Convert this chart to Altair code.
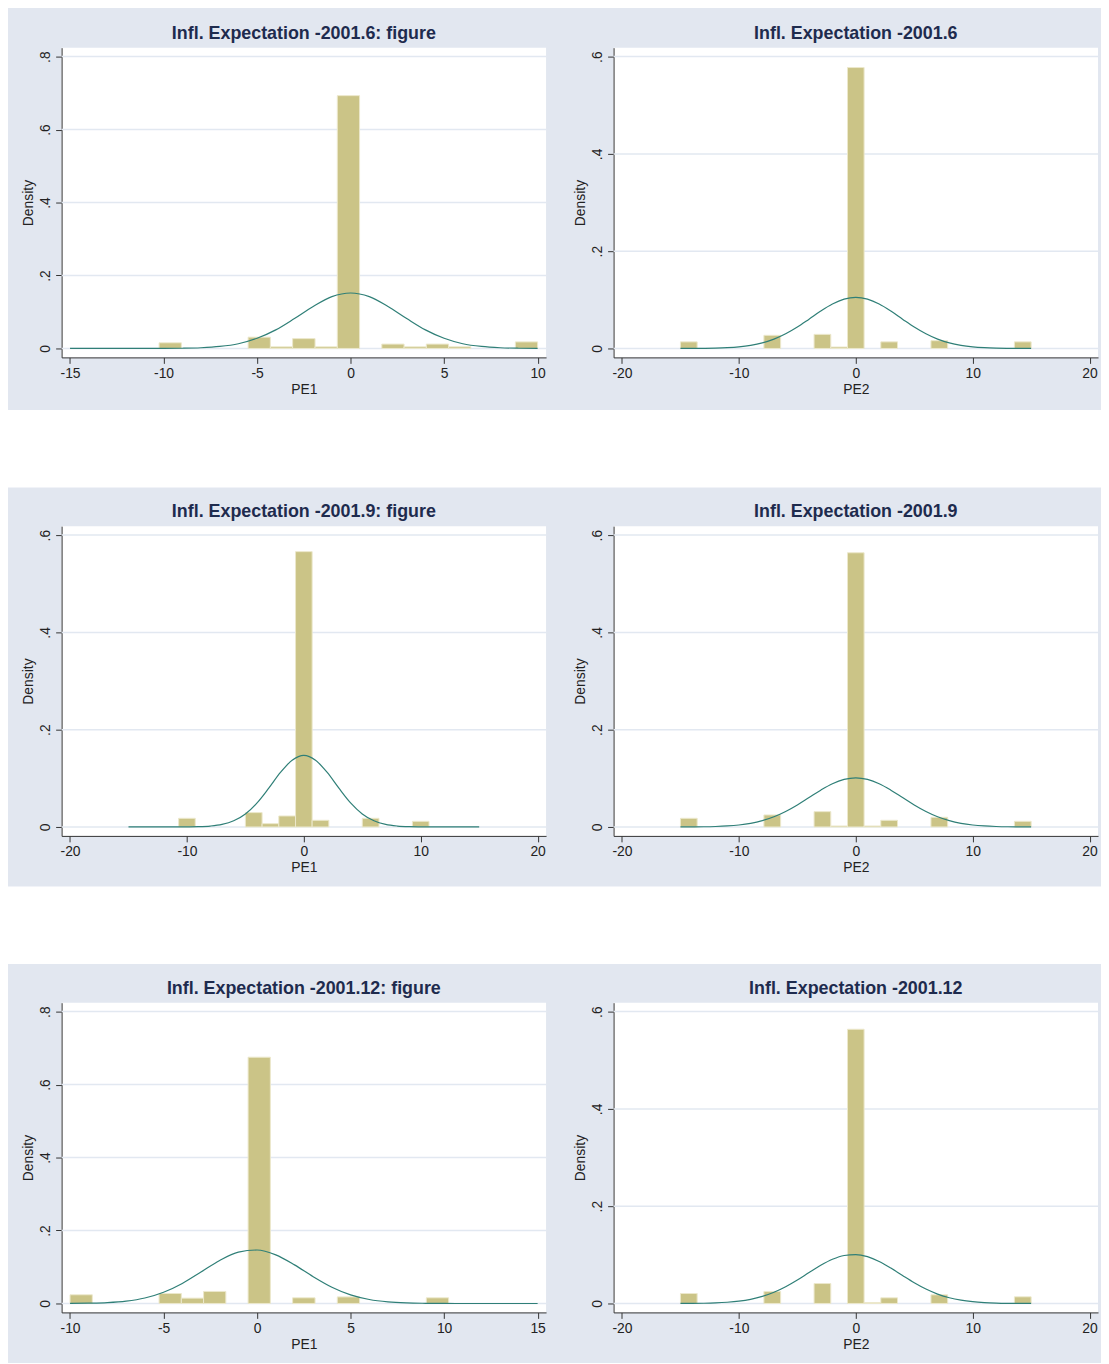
import altair as alt
import pandas as pd

# ---------------- texts ----------------
PANEL_TITLES = [
    "Infl. Expectation -2001.6: figure",
    "Infl. Expectation -2001.6",
    "Infl. Expectation -2001.9: figure",
    "Infl. Expectation -2001.9",
    "Infl. Expectation -2001.12: figure",
    "Infl. Expectation -2001.12",
]
X_TITLES = ["PE1", "PE2", "PE1", "PE2", "PE1", "PE2"]
Y_TITLE = "Density"

# ---------------- tick values ----------------
X_TICKS = [
    [-15, -10, -5, 0, 5, 10],
    [-20, -10, 0, 10, 20],
    [-20, -10, 0, 10, 20],
    [-20, -10, 0, 10, 20],
    [-10, -5, 0, 5, 10, 15],
    [-20, -10, 0, 10, 20],
]
Y_TICKS = [
    [0, 0.2, 0.4, 0.6, 0.8],
    [0, 0.2, 0.4, 0.6],
    [0, 0.2, 0.4, 0.6],
    [0, 0.2, 0.4, 0.6],
    [0, 0.2, 0.4, 0.6, 0.8],
    [0, 0.2, 0.4, 0.6],
]

# ---------------- histogram bars (bin low, bin high, density) ----------------
P1_LO = [-10.24, -5.48, -4.29, -3.10, -1.90, -0.71, 1.67, 2.86, 4.05, 5.24, 8.81]
P1_HI = [-9.05, -4.29, -3.10, -1.90, -0.71, 0.48, 2.86, 4.05, 5.24, 6.43, 10.00]
P1_D = [0.0155, 0.031, 0.0045, 0.027, 0.0045, 0.693, 0.012, 0.0045, 0.012, 0.0045, 0.018]

P2_LO = [-15.00, -7.86, -3.57, -2.14, -0.71, 2.14, 6.43, 13.57]
P2_HI = [-13.57, -6.43, -2.14, -0.71, 0.71, 3.57, 7.86, 15.00]
P2_D = [0.0136, 0.027, 0.029, 0.003, 0.5775, 0.0136, 0.016, 0.0136]

P3_LO = [-10.71, -5.00, -3.57, -2.14, -0.71, 0.71, 5.00, 9.29]
P3_HI = [-9.29, -3.57, -2.14, -0.71, 0.71, 2.14, 6.43, 10.71]
P3_D = [0.0178, 0.0295, 0.0068, 0.0226, 0.566, 0.0137, 0.0178, 0.0116]

P4_LO = [-15.00, -7.86, -3.57, -2.14, -0.71, 0.71, 2.14, 6.43, 13.57]
P4_HI = [-13.57, -6.43, -2.14, -0.71, 0.71, 2.14, 3.57, 7.86, 15.00]
P4_D = [0.0178, 0.0247, 0.0315, 0.002, 0.5637, 0.002, 0.0137, 0.0199, 0.0116]

P5_LO = [-10.00, -5.24, -4.05, -2.86, -0.48, 1.90, 4.29, 9.05]
P5_HI = [-8.81, -4.05, -2.86, -1.67, 0.71, 3.10, 5.48, 10.24]
P5_D = [0.0238, 0.0274, 0.0146, 0.033, 0.675, 0.0155, 0.018, 0.0155]

P6_LO = [-15.00, -7.86, -3.57, -0.71, 0.71, 2.14, 6.43, 13.57]
P6_HI = [-13.57, -6.43, -2.14, 0.71, 2.14, 3.57, 7.86, 15.00]
P6_D = [0.0205, 0.0247, 0.041, 0.5637, 0.002, 0.0116, 0.0178, 0.0137]

# ---------------- normal-density overlay ----------------
P1_CX = [-15, -14, -13, -12, -11, -10, -9, -8, -7, -6, -5, -4, -3, -2, -1, 0,
         1, 2, 3, 4, 5, 6, 7, 8, 9, 10]
P1_CY = [0.0, 0.0, 0.0, 0.0, 0.0, 0.0001, 0.0006, 0.002, 0.0055, 0.013, 0.028,
         0.051, 0.082, 0.115, 0.142, 0.152, 0.142, 0.115, 0.082, 0.051, 0.028,
         0.013, 0.0055, 0.002, 0.0006, 0.0001]

P2_CX = [-15, -14, -13, -12, -11, -10, -9, -8, -7, -6, -5, -4, -3, -2, -1, 0,
         1, 2, 3, 4, 5, 6, 7, 8, 9, 10, 11, 12, 13, 14, 15]
P2_CY = [0.0, 0.0001, 0.0003, 0.0007, 0.0016, 0.0033, 0.0064, 0.0114, 0.0192,
         0.0302, 0.0441, 0.0603, 0.0769, 0.0914, 0.1014, 0.105, 0.1014, 0.0914,
         0.0769, 0.0603, 0.0441, 0.0302, 0.0192, 0.0114, 0.0064, 0.0033, 0.0016,
         0.0007, 0.0003, 0.0001, 0.0]

P3_CX = [-15, -14, -13, -12, -11, -10, -9, -8, -7, -6, -5, -4, -3, -2, -1, 0,
         1, 2, 3, 4, 5, 6, 7, 8, 9, 10, 11, 12, 13, 14, 15]
P3_CY = [0.0, 0.0, 0.0, 0.0, 0.0, 0.0002, 0.0006, 0.0019, 0.0052, 0.0127,
         0.0268, 0.0495, 0.0797, 0.112, 0.137, 0.147, 0.137, 0.112, 0.0797,
         0.0495, 0.0268, 0.0127, 0.0052, 0.0019, 0.0006, 0.0002, 0.0, 0.0, 0.0,
         0.0, 0.0]

P4_CX = [-15, -14, -13, -12, -11, -10, -9, -8, -7, -6, -5, -4, -3, -2, -1, 0,
         1, 2, 3, 4, 5, 6, 7, 8, 9, 10, 11, 12, 13, 14, 15]
P4_CY = [0.0001, 0.0002, 0.0004, 0.001, 0.0021, 0.0041, 0.0075, 0.013, 0.021,
         0.0319, 0.0453, 0.0605, 0.0757, 0.0889, 0.0978, 0.101, 0.0978, 0.0889,
         0.0757, 0.0605, 0.0453, 0.0319, 0.021, 0.013, 0.0075, 0.0041, 0.0021,
         0.001, 0.0004, 0.0002, 0.0001]

P5_CX = [-10, -9, -8, -7, -6, -5, -4, -3, -2, -1, 0, 1, 2, 3, 4, 5, 6, 7, 8,
         9, 10, 11, 12, 13, 14, 15]
P5_CY = [0.0002, 0.0008, 0.0023, 0.0063, 0.0149, 0.0307, 0.055, 0.0862, 0.118,
         0.1407, 0.1466, 0.1333, 0.1058, 0.0732, 0.0443, 0.0234, 0.0108, 0.0043,
         0.0015, 0.0005, 0.0001, 0.0, 0.0, 0.0, 0.0, 0.0]

P6_CX = [-15, -14, -13, -12, -11, -10, -9, -8, -7, -6, -5, -4, -3, -2, -1, 0,
         1, 2, 3, 4, 5, 6, 7, 8, 9, 10, 11, 12, 13, 14, 15]
P6_CY = [0.0001, 0.0002, 0.0005, 0.0012, 0.0025, 0.0047, 0.0085, 0.0145,
         0.0231, 0.0345, 0.0483, 0.0636, 0.0784, 0.0908, 0.0987, 0.1006, 0.0962,
         0.0863, 0.0727, 0.0574, 0.0426, 0.0296, 0.0193, 0.0118, 0.0068, 0.0037,
         0.0019, 0.0009, 0.0004, 0.0002, 0.0001]

BARS = [(P1_LO, P1_HI, P1_D), (P2_LO, P2_HI, P2_D), (P3_LO, P3_HI, P3_D),
        (P4_LO, P4_HI, P4_D), (P5_LO, P5_HI, P5_D), (P6_LO, P6_HI, P6_D)]
CURVES = [(P1_CX, P1_CY), (P2_CX, P2_CY), (P3_CX, P3_CY),
          (P4_CX, P4_CY), (P5_CX, P5_CY), (P6_CX, P6_CY)]

# ---------------- style ----------------
W, H = 488, 312
BG = "#E2E7F0"
KHAKI = "#CBC487"
BAR_EDGE = "#ECE8CC"
CURVE_COL = "#2F7F77"
GRID_COL = "#E2E8F1"
NAVY = "#1E2B4E"
AXIS_COL = "#333333"
FONT = "Liberation Sans"

# panel extents (left, right, top, bottom) relative to plot area, and white gap below
BG_BOX = [
    (-54, W + 6, -35, H + 53, 78), (-62, W + 3, -35, H + 53, 78),
    (-54, W + 6, -39, H + 51, 78), (-62, W + 3, -39, H + 51, 78),
    (-54, W + 6, -39, H + 46, 0), (-62, W + 3, -39, H + 46, 0),
]


def panel(i):
    xt = X_TICKS[i]
    yt = Y_TICKS[i]
    m = (xt[-1] - xt[0]) * 8.5 / 471.0
    ym = yt[-1] * 9.0 / 294.0
    xscale = alt.Scale(domain=[xt[0] - m, xt[-1] + m], nice=False, zero=False)
    yscale = alt.Scale(domain=[-ym, yt[-1] + ym], nice=False, zero=False)
    l, r, t, b, gap = BG_BOX[i]
    one = alt.Data(values=[{"k": 0}])

    xaxis = alt.Axis(values=xt, title=X_TITLES[i], labelExpr="'' + datum.value",
                     grid=False, tickSize=6, labelPadding=3, labelFont=FONT,
                     labelFontSize=14, labelColor="#222222", titleFont=FONT,
                     titleFontSize=14, titleFontWeight="normal",
                     titleColor="#222222", titleY=25, titleBaseline="top",
                     domainColor=AXIS_COL, tickColor=AXIS_COL,
                     labelFlush=False, labelOverlap=False)
    yaxis = alt.Axis(values=yt, title=Y_TITLE,
                     labelExpr="datum.value == 0 ? '0' : '.' + round(datum.value * 10)",
                     grid=False, tickSize=6, labelPadding=3, labelAngle=270,
                     labelAlign="center", labelBaseline="bottom", labelFont=FONT,
                     labelFontSize=14, labelColor="#222222", titleFont=FONT,
                     titleFontSize=14, titleFontWeight="normal",
                     titleColor="#222222", titleAngle=270, titleAlign="center",
                     titleBaseline="middle", titleX=-33, titleY=H / 2,
                     domainColor=AXIS_COL, tickColor=AXIS_COL,
                     labelFlush=False, labelOverlap=False)

    # invisible frame that fixes the panel's extent for the layout
    frame = alt.Chart(one).mark_rect(fill="transparent", opacity=0).encode(
        x=alt.value(l), x2=alt.value(r), y=alt.value(t), y2=alt.value(b))
    layers = [frame]
    if gap > 0:
        band = alt.Chart(one).mark_rect(color="white").encode(
            x=alt.value(l), x2=alt.value(r), y=alt.value(b),
            y2=alt.value(b + gap))
        layers.append(band)

    lo, hi, d = BARS[i]
    bdf = pd.DataFrame({"lo": lo, "hi": hi, "d": d})
    bars = alt.Chart(bdf).mark_bar(color=KHAKI, stroke=BAR_EDGE,
                                   strokeWidth=1).encode(
        x=alt.X("lo:Q", scale=xscale, axis=xaxis),
        x2="hi:Q",
        y=alt.Y("d:Q", scale=yscale, axis=yaxis),
        y2=alt.datum(0))

    grid = alt.Chart(pd.DataFrame({"g": yt})).mark_rule(
        color=GRID_COL, strokeWidth=1.5).encode(
        y=alt.Y("g:Q", scale=yscale, axis=yaxis),
        x=alt.value(0), x2=alt.value(W))

    cx, cy = CURVES[i]
    cdf = pd.DataFrame({"cx": cx, "cy": cy})
    curve = alt.Chart(cdf).mark_line(color=CURVE_COL, strokeWidth=1.2,
                                     interpolate="monotone").encode(
        x=alt.X("cx:Q", scale=xscale, axis=xaxis),
        y=alt.Y("cy:Q", scale=yscale, axis=yaxis))

    title = alt.Chart(alt.Data(values=[{"t": PANEL_TITLES[i]}])).mark_text(
        font=FONT, fontSize=18, fontWeight="bold", color=NAVY,
        align="center", baseline="middle").encode(
        text="t:N", x=alt.value(W / 2), y=alt.value(-14))

    layers += [grid, bars, curve, title]
    return alt.layer(*layers).properties(width=W, height=H)


rows = [alt.hconcat(panel(2 * k), panel(2 * k + 1), spacing=0) for k in range(3)]
chart = alt.vconcat(*rows, spacing=0).properties(
    padding=0, background=BG).configure_view(strokeWidth=0, fill="white")

chart.save("out.html", embed_options={"renderer": "svg", "actions": False})
